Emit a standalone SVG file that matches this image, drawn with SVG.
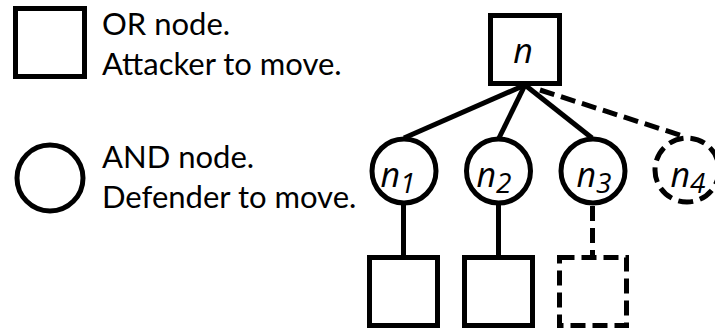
<svg xmlns="http://www.w3.org/2000/svg" width="715" height="332" viewBox="0 0 715 332">
  <style>
    .shape { fill: #ffffff; stroke: #000000; stroke-width: 5; }
    .dash { stroke-dasharray: 15 7; }
    .edge { fill: none; stroke: #000000; stroke-width: 5; }
    .legend { font-family: Lato, "Liberation Sans", sans-serif; font-size: 31px; fill: #000000; }
    .label { font-family: "Open Sans", "Liberation Sans", sans-serif; font-style: italic; font-size: 34px; fill: #000000; text-anchor: middle; }
    .sub { font-size: 28px; }
  </style>
  <rect width="715" height="332" fill="#ffffff"/>

  <!-- Legend -->
  <g id="legend-or">
    <rect class="shape" x="15.5" y="8.5" width="69" height="68" stroke-width="4.5"/>
    <text class="legend" x="102" y="35">OR node.</text>
    <text class="legend" x="102" y="75">Attacker to move.</text>
  </g>
  <g id="legend-and">
    <circle class="shape" cx="50" cy="178" r="33" stroke-width="4"/>
    <text class="legend" x="102" y="168">AND node.</text>
    <text class="legend" x="102" y="208">Defender to move.</text>
  </g>

  <!-- Connectors -->
  <g id="connectors">
    <line class="edge" x1="525" y1="85" x2="404" y2="138"/>
    <line class="edge" x1="525" y1="85" x2="499" y2="138"/>
    <line class="edge" x1="525" y1="85" x2="592" y2="138"/>
    <line class="edge dash" x1="540" y1="90" x2="686" y2="137"/>
    <line class="edge" x1="403.5" y1="204" x2="403.5" y2="258"/>
    <line class="edge" x1="498.5" y1="204" x2="498.5" y2="258"/>
    <line class="edge dash" x1="592.5" y1="206" x2="592.5" y2="258"/>
  </g>

  <!-- Tree nodes -->
  <g id="n">
    <rect class="shape" x="490.5" y="15.5" width="69" height="68"/>
    <text class="label" x="523" y="63">n</text>
  </g>
  <g id="n1">
    <circle class="shape" cx="404" cy="171" r="32" stroke-width="4.5"/>
    <text class="label" x="398" y="187">n<tspan class="sub" dy="6">1</tspan></text>
  </g>
  <g id="n2">
    <circle class="shape" cx="498.5" cy="171" r="32" stroke-width="4.5"/>
    <text class="label" x="494" y="187">n<tspan class="sub" dy="6">2</tspan></text>
  </g>
  <g id="n3">
    <circle class="shape" cx="593" cy="171" r="32" stroke-width="4.5"/>
    <text class="label" x="594" y="187">n<tspan class="sub" dy="6">3</tspan></text>
  </g>
  <g id="n4">
    <circle class="shape dash" cx="687" cy="170" r="32" stroke-width="4.5"/>
    <text class="label" x="688" y="187">n<tspan class="sub" dy="6">4</tspan></text>
  </g>
  <g id="c1">
    <rect class="shape" x="369.5" y="257.5" width="68" height="68"/>
  </g>
  <g id="c2">
    <rect class="shape" x="464.5" y="257.5" width="68" height="68"/>
  </g>
  <g id="c3">
    <rect class="shape dash" x="559.5" y="257.5" width="67" height="68"/>
  </g>
</svg>
